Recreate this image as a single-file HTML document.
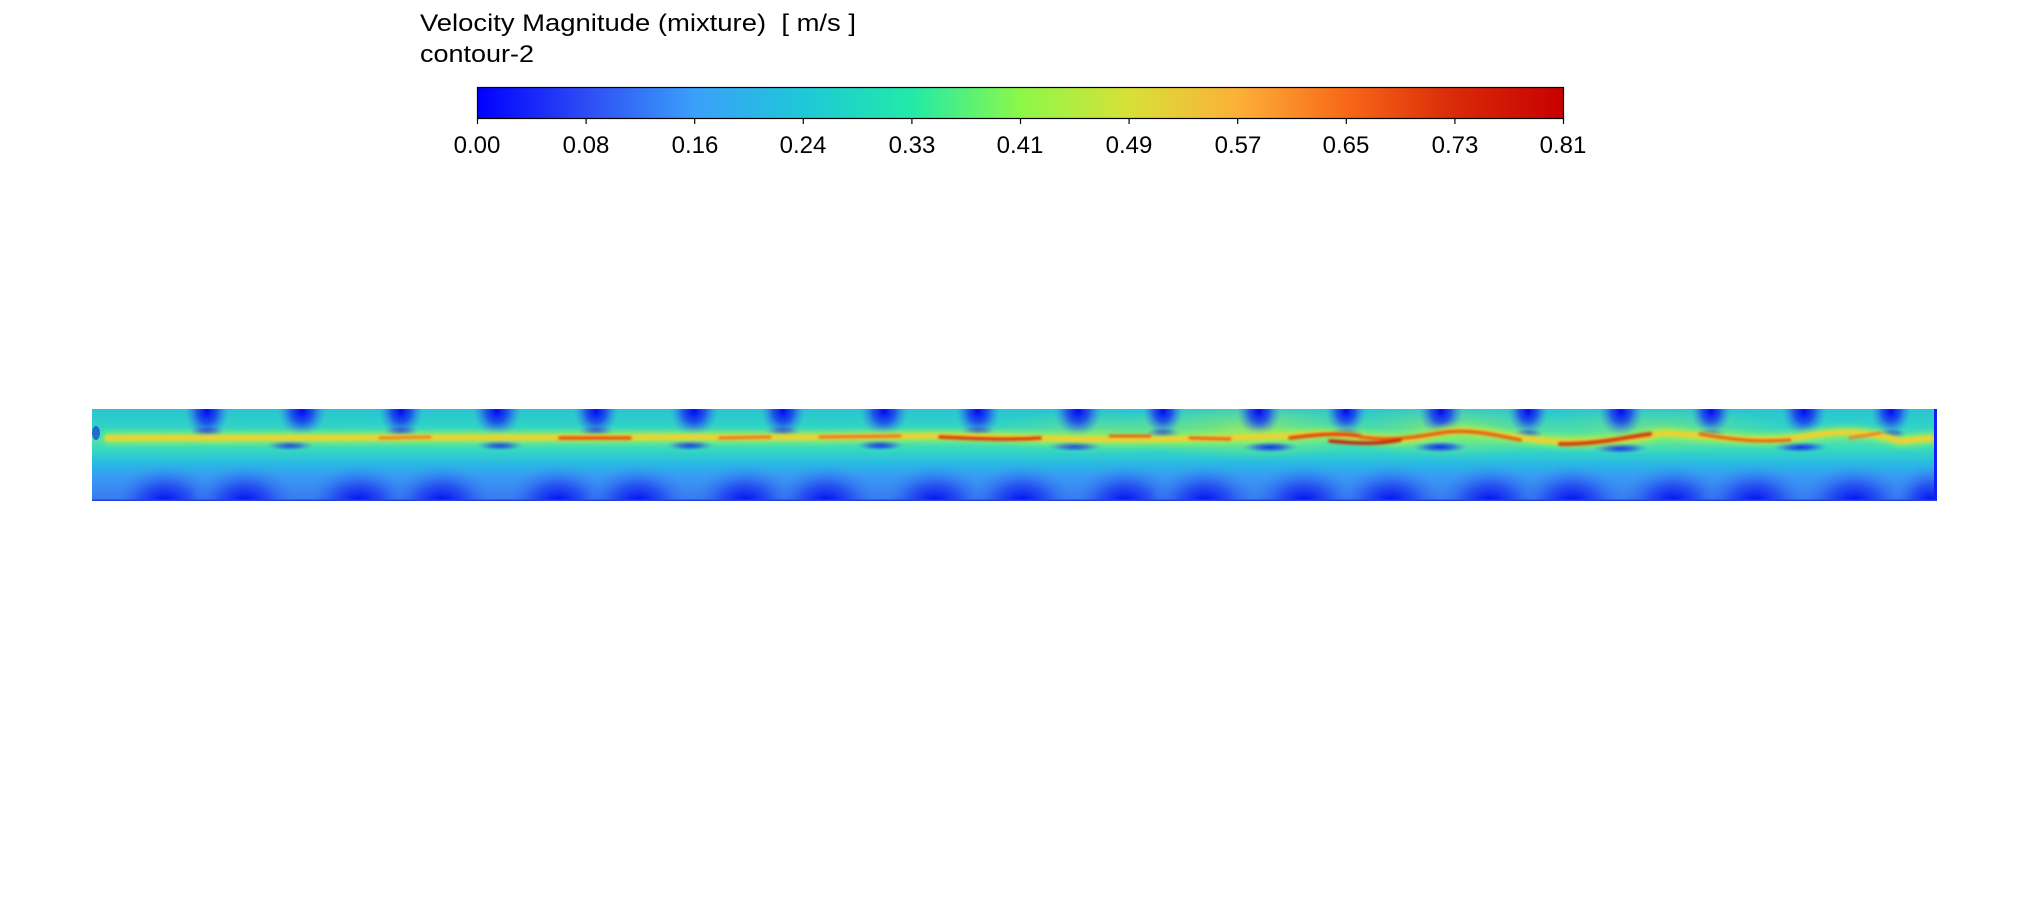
<!DOCTYPE html>
<html><head><meta charset="utf-8"><style>
html,body{margin:0;padding:0;background:#fff;width:2030px;height:912px;overflow:hidden}
svg{position:absolute;left:0;top:0}
text{font-family:"Liberation Sans",sans-serif;fill:#000}
</style></head><body>
<svg width="2030" height="912" viewBox="0 0 2030 912">
<defs>
<linearGradient id="cb" x1="0" x2="1" y1="0" y2="0">
<stop offset="0" stop-color="#0000ff"/>
<stop offset="0.1" stop-color="#2e4cf4"/>
<stop offset="0.2" stop-color="#3aa0fa"/>
<stop offset="0.3" stop-color="#1ec8d8"/>
<stop offset="0.4" stop-color="#22eaa8"/>
<stop offset="0.5" stop-color="#8cf848"/>
<stop offset="0.6" stop-color="#d8e038"/>
<stop offset="0.7" stop-color="#fcb038"/>
<stop offset="0.8" stop-color="#f86818"/>
<stop offset="0.9" stop-color="#d82a08"/>
<stop offset="1" stop-color="#c80000"/>
</linearGradient>
<linearGradient id="bg" x1="0" x2="0" y1="0" y2="1">
<stop offset="0" stop-color="#28c4d4"/>
<stop offset="0.2" stop-color="#30d4c4"/>
<stop offset="0.33" stop-color="#50e4a8"/>
<stop offset="0.45" stop-color="#34d8c0"/>
<stop offset="0.6" stop-color="#28b8e4"/>
<stop offset="0.75" stop-color="#3a98f4"/>
<stop offset="1" stop-color="#3a78f0"/>
</linearGradient>
<radialGradient id="bt"><stop offset="0" stop-color="#0008f4"/><stop offset="0.45" stop-color="#1838f0" stop-opacity="0.8"/><stop offset="1" stop-color="#3a80f0" stop-opacity="0"/></radialGradient>
<radialGradient id="bb"><stop offset="0" stop-color="#0008f4"/><stop offset="0.45" stop-color="#2040f0" stop-opacity="0.75"/><stop offset="1" stop-color="#3a90f0" stop-opacity="0"/></radialGradient>
<radialGradient id="gy"><stop offset="0" stop-color="#b8f040"/><stop offset="1" stop-color="#90f060" stop-opacity="0"/></radialGradient>
<filter id="bl" x="-5%" y="-100%" width="110%" height="300%"><feGaussianBlur stdDeviation="3"/></filter>
<filter id="bl2" x="-5%" y="-100%" width="110%" height="300%"><feGaussianBlur stdDeviation="1.2"/></filter>
<clipPath id="cp"><rect x="92" y="409" width="1845" height="92"/></clipPath>
</defs>

<text x="420" y="31" font-size="24.5" textLength="436" lengthAdjust="spacingAndGlyphs" xml:space="preserve">Velocity Magnitude (mixture)  [ m/s ]</text>
<text x="420" y="62" font-size="24.5" textLength="114" lengthAdjust="spacingAndGlyphs">contour-2</text>

<rect x="477.5" y="87.5" width="1086" height="31" fill="url(#cb)" stroke="#000" stroke-width="1.2"/>
<g stroke="#000" stroke-width="1.2">
<line x1="477.5" y1="119" x2="477.5" y2="124"/><line x1="586.1" y1="119" x2="586.1" y2="124"/><line x1="694.7" y1="119" x2="694.7" y2="124"/><line x1="803.3" y1="119" x2="803.3" y2="124"/><line x1="911.9" y1="119" x2="911.9" y2="124"/><line x1="1020.5" y1="119" x2="1020.5" y2="124"/><line x1="1129.1" y1="119" x2="1129.1" y2="124"/><line x1="1237.7" y1="119" x2="1237.7" y2="124"/><line x1="1346.3" y1="119" x2="1346.3" y2="124"/><line x1="1454.9" y1="119" x2="1454.9" y2="124"/><line x1="1563.5" y1="119" x2="1563.5" y2="124"/>
</g>
<g font-size="24" text-anchor="middle">
<text x="477" y="153">0.00</text><text x="586" y="153">0.08</text><text x="695" y="153">0.16</text><text x="803" y="153">0.24</text><text x="912" y="153">0.33</text><text x="1020" y="153">0.41</text><text x="1129" y="153">0.49</text><text x="1238" y="153">0.57</text><text x="1346" y="153">0.65</text><text x="1455" y="153">0.73</text><text x="1563" y="153">0.81</text>
</g>

<g clip-path="url(#cp)">
<rect x="92" y="409" width="1845" height="92" fill="url(#bg)"/>
<ellipse cx="1250" cy="430" rx="130" ry="30" fill="url(#gy)" opacity="0.7"/>
<ellipse cx="1450" cy="430" rx="120" ry="28" fill="url(#gy)" opacity="0.6"/>
<ellipse cx="1650" cy="430" rx="140" ry="25" fill="url(#gy)" opacity="0.45"/>
<ellipse cx="1100" cy="432" rx="120" ry="22" fill="url(#gy)" opacity="0.4"/>
<g fill="url(#bb)">
<ellipse cx="165" cy="502" rx="55" ry="38"/><ellipse cx="245" cy="502" rx="55" ry="38"/><ellipse cx="359" cy="502" rx="55" ry="38"/><ellipse cx="442" cy="502" rx="55" ry="38"/><ellipse cx="558" cy="502" rx="55" ry="38"/><ellipse cx="638" cy="502" rx="55" ry="38"/><ellipse cx="745" cy="502" rx="55" ry="38"/><ellipse cx="826" cy="502" rx="55" ry="38"/><ellipse cx="935" cy="502" rx="55" ry="38"/><ellipse cx="1022" cy="502" rx="55" ry="38"/><ellipse cx="1125" cy="502" rx="55" ry="38"/><ellipse cx="1205" cy="502" rx="55" ry="38"/><ellipse cx="1304" cy="502" rx="55" ry="38"/><ellipse cx="1391" cy="502" rx="55" ry="38"/><ellipse cx="1490" cy="502" rx="55" ry="38"/><ellipse cx="1572" cy="502" rx="55" ry="38"/><ellipse cx="1673" cy="502" rx="55" ry="38"/><ellipse cx="1755" cy="502" rx="55" ry="38"/><ellipse cx="1854" cy="502" rx="55" ry="38"/><ellipse cx="1930" cy="502" rx="40" ry="38"/>
</g>
<g fill="url(#bt)">
<ellipse cx="207" cy="411" rx="22" ry="28"/><ellipse cx="302" cy="411" rx="24" ry="26"/><ellipse cx="401" cy="411" rx="22" ry="26"/><ellipse cx="497" cy="411" rx="24" ry="26"/><ellipse cx="596" cy="411" rx="22" ry="26"/><ellipse cx="694" cy="411" rx="24" ry="26"/><ellipse cx="783" cy="411" rx="22" ry="26"/><ellipse cx="884" cy="411" rx="24" ry="26"/><ellipse cx="978" cy="411" rx="22" ry="26"/><ellipse cx="1078" cy="411" rx="24" ry="26"/><ellipse cx="1163" cy="411" rx="20" ry="24"/><ellipse cx="1259" cy="411" rx="22" ry="26"/><ellipse cx="1346" cy="411" rx="20" ry="24"/><ellipse cx="1441" cy="411" rx="22" ry="26"/><ellipse cx="1528" cy="411" rx="20" ry="24"/><ellipse cx="1621" cy="411" rx="22" ry="26"/><ellipse cx="1711" cy="411" rx="20" ry="24"/><ellipse cx="1804" cy="411" rx="22" ry="26"/><ellipse cx="1891" cy="411" rx="20" ry="24"/>
</g>
<g fill="url(#bt)" opacity="0.8">
<ellipse cx="207" cy="432" rx="18" ry="7"/><ellipse cx="401" cy="432" rx="18" ry="7"/><ellipse cx="596" cy="432" rx="18" ry="7"/><ellipse cx="783" cy="432" rx="18" ry="7"/><ellipse cx="978" cy="432" rx="18" ry="7"/><ellipse cx="1163" cy="434" rx="18" ry="7"/><ellipse cx="1346" cy="434" rx="18" ry="7"/><ellipse cx="1528" cy="434" rx="16" ry="6"/><ellipse cx="1711" cy="434" rx="16" ry="6"/><ellipse cx="1891" cy="434" rx="16" ry="6"/>
<ellipse cx="290" cy="445" rx="24" ry="6"/><ellipse cx="500" cy="445" rx="24" ry="6"/><ellipse cx="690" cy="445" rx="24" ry="6"/><ellipse cx="880" cy="445" rx="24" ry="6"/><ellipse cx="1075" cy="446" rx="28" ry="6"/><ellipse cx="1270" cy="447" rx="28" ry="6"/><ellipse cx="1440" cy="447" rx="28" ry="6"/><ellipse cx="1620" cy="448" rx="28" ry="6"/><ellipse cx="1800" cy="447" rx="28" ry="6"/>
</g>
<!-- jet -->
<path d="M105,438 C300,436 500,436 700,437 S900,434 1000,437 S1150,440 1250,437 S1300,432 1350,436 S1400,442 1440,433 S1520,446 1600,441 S1640,431 1680,434 S1760,443 1800,437 S1860,429 1900,441 L1935,438" fill="none" stroke="#a8f050" stroke-width="11" opacity="0.8" filter="url(#bl)"/>
<path d="M105,438 C300,436 500,436 700,437 S900,434 1000,437 S1150,440 1250,437 S1300,432 1350,436 S1400,442 1440,433 S1520,446 1600,441 S1640,431 1680,434 S1760,443 1800,437 S1860,429 1900,441 L1935,438" fill="none" stroke="#f0d030" stroke-width="5" filter="url(#bl2)"/>
<g fill="none" stroke-linecap="round" filter="url(#bl2)">
<path d="M380,438 L430,437" stroke="#f08020" stroke-width="3"/>
<path d="M560,438 L630,438" stroke="#e85010" stroke-width="3.5"/>
<path d="M720,438 L770,437 M820,437 L900,436" stroke="#f07020" stroke-width="3"/>
<path d="M940,437 C980,439 1010,440 1040,438" stroke="#d83a08" stroke-width="3.5"/>
<path d="M1110,436 L1150,436 M1190,438 L1230,439" stroke="#e86018" stroke-width="3"/>
<path d="M1290,438 C1320,434 1340,433 1360,436" stroke="#e04010" stroke-width="3.5"/>
<path d="M1360,437 C1390,441 1410,438 1440,433 S1500,436 1520,440" stroke="#e06018" stroke-width="3.5"/>
<path d="M1330,441 C1360,444 1380,444 1400,440" stroke="#c82008" stroke-width="3.5"/>
<path d="M1560,444 C1600,444 1620,438 1650,434" stroke="#d03a0a" stroke-width="4"/>
<path d="M1700,434 C1740,441 1760,442 1790,440" stroke="#e06018" stroke-width="3"/>
<path d="M1850,438 L1880,433" stroke="#f08020" stroke-width="3"/>
</g>
<ellipse cx="96" cy="433" rx="4" ry="7" fill="#1020e0" opacity="0.6"/>
<rect x="1934" y="409" width="3" height="92" fill="#1020f0"/>
<rect x="92" y="499.5" width="1845" height="1.5" fill="#2040e0"/>
</g>
</svg>
</body></html>
